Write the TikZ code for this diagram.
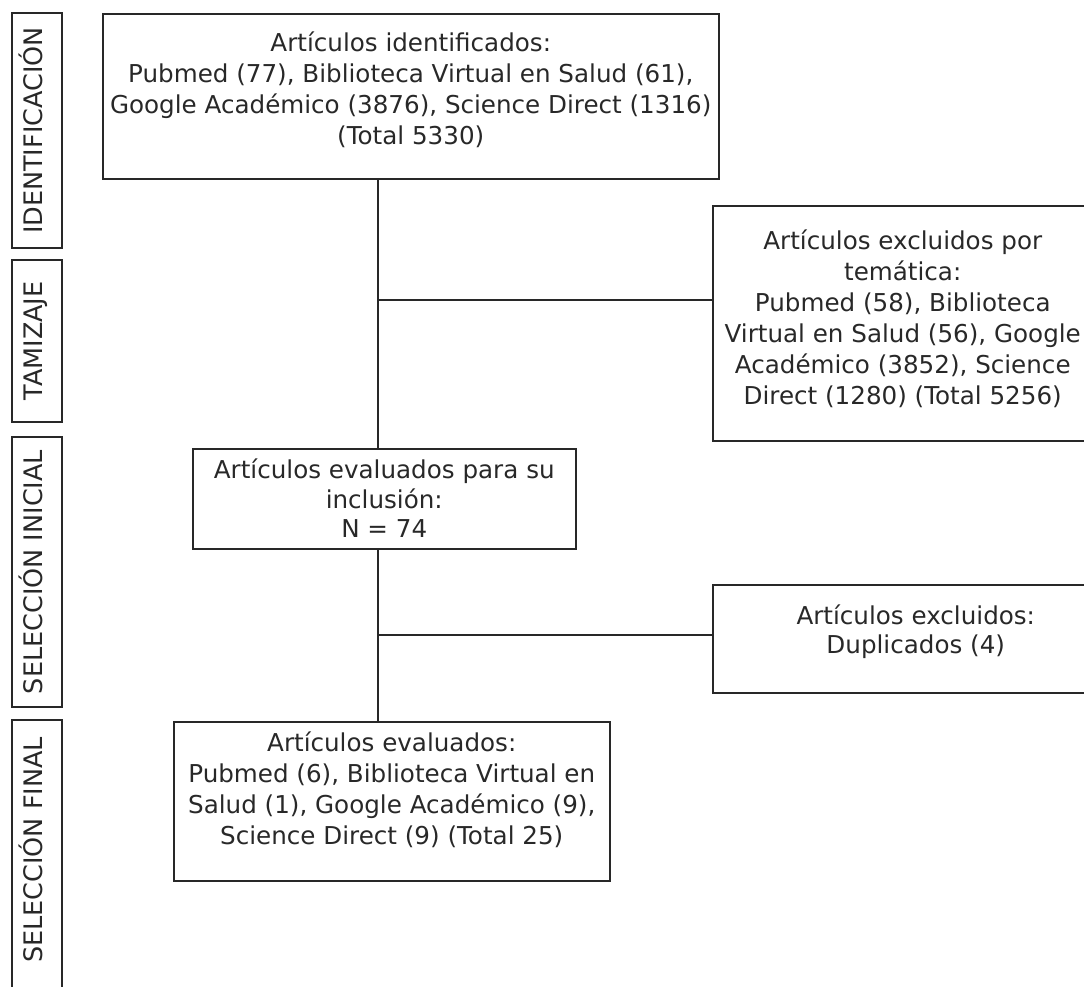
\documentclass[tikz,border=0pt]{standalone}
\usepackage{fontspec}
\setmainfont{DejaVu Sans}
\usetikzlibrary{positioning}
\definecolor{linegray}{RGB}{40,40,40}

\tikzset{
  box/.style={draw=linegray, line width=1.5pt, inner sep=0pt, anchor=north west},
  txt/.style={align=center, anchor=north, inner sep=0pt, text=linegray,
    font=\fontsize{24.6}{31}\selectfont},
  phase/.style={draw=linegray, line width=1.5pt, rotate=90, inner sep=0pt,
    minimum height=50pt, text=linegray, text height=18pt, text depth=7pt,
    font=\fontsize{25.5}{28}\selectfont},
  link/.style={draw=linegray, line width=1.5pt}
}

\begin{document}
\begin{tikzpicture}[x=1pt, y=-1pt]
    \useasboundingbox (0,0) rectangle (1084,986);
    \clip (0,0) rectangle (1084,986);

    % Phases on the left
    \node[phase, minimum width=235pt] (phident) at (37,130.5) {IDENTIFICACIÓN};
    \node[phase, minimum width=162pt] (phtam) at (37,341) {TAMIZAJE};
    \node[phase, minimum width=270pt] (phini) at (37,572) {SELECCIÓN INICIAL};
    \node[phase, minimum width=300pt] (phfin) at (37,870) {};
    \node[phase, draw=none] (phfintxt) at (37,850) {SELECCIÓN FINAL};

    % Boxes
    \node[box, minimum width=616pt, minimum height=165pt] (ident) at (102,13) {};
    \node[txt] (identtxt) at ([yshift=-19pt]ident.north)
        {Artículos identificados:\\Pubmed (77), Biblioteca Virtual en Salud (61),\\
         Google Académico (3876), Science Direct (1316)\\(Total 5330)};

    \node[box, minimum width=380pt, minimum height=235pt] (excl1) at (712,205) {};
    \node[txt] (excl1txt) at ([yshift=-25pt]excl1.north)
        {Artículos excluidos por\\temática:\\Pubmed (58), Biblioteca\\
         Virtual en Salud (56), Google\\Académico (3852), Science\\
         Direct (1280) (Total 5256)};

    \node[box, minimum width=383pt, minimum height=100pt] (eval) at (192,448) {};
    \node[txt, font=\fontsize{24.6}{29.5}\selectfont] (evaltxt) at ([yshift=-11pt]eval.north)
        {Artículos evaluados para su\\inclusión:\\N = 74};

    \node[box, minimum width=406pt, minimum height=108pt] (excl2) at (712,584) {};
    \node[txt, font=\fontsize{24.6}{28.5}\selectfont] (excl2txt) at ([yshift=-21pt]excl2.north)
        {Artículos excluidos:\\Duplicados (4)};

    \node[box, minimum width=436pt, minimum height=159pt] (final) at (173,721) {};
    \node[txt] (finaltxt) at ([yshift=-11pt]final.north)
        {Artículos evaluados:\\Pubmed (6), Biblioteca Virtual en\\
         Salud (1), Google Académico (9),\\Science Direct (9) (Total 25)};

    % Connectors
    \coordinate (trunk) at (378,0);
    \coordinate (br1) at (378,300);
    \coordinate (br2) at (378,635);
    \draw[link] (ident.south -| trunk) -- (eval.north -| trunk);
    \draw[link] (br1) -- (br1 -| excl1.west);
    \draw[link] (eval.south -| trunk) -- (final.north -| trunk);
    \draw[link] (br2) -- (br2 -| excl2.west);
\end{tikzpicture}
\end{document}
